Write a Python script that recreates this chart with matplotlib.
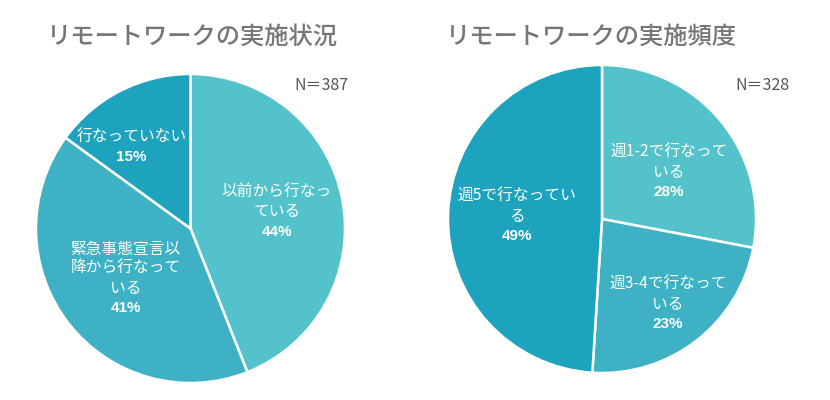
import numpy as np
import matplotlib.pyplot as plt

plt.rcParams['font.family'] = ['Noto Sans CJK JP', 'DejaVu Sans']

# data
status_labels = ['以前から行なっ\nている', '緊急事態宣言以\n降から行なって\nいる', '行なっていない']
status_values = [44, 41, 15]
status_n = 387

freq_labels = ['週1-2で行なって\nいる', '週3-4で行なって\nいる', '週5で行なってい\nる']
freq_values = [28, 23, 49]
freq_n = 328

colors = ['#53C2CA', '#3EB1C4', '#1DA3BE']
title_color = '#767676'

W, H = 830, 400
fig = plt.figure(figsize=(W / 100, H / 100), dpi=100)


def draw_pie(cx, cy, r, values, labels, dists, nudges, title, tx, n, nx):
    ax = fig.add_axes([(cx - r) / W, 1 - (cy + r) / H, 2 * r / W, 2 * r / H])
    wedges, _ = ax.pie(values, colors=colors, startangle=90, counterclock=False,
                       radius=1, wedgeprops=dict(edgecolor='white', linewidth=1.8))
    ax.set_xlim(-1, 1)
    ax.set_ylim(-1, 1)
    ax.set_aspect('equal')
    ax.axis('off')

    lh = 19.7 / r  # line pitch in data units
    for w, lab, v, d, nd in zip(wedges, labels, values, dists, nudges):
        ang = np.deg2rad((w.theta1 + w.theta2) / 2 + nd)
        x, y = d * np.cos(ang), d * np.sin(ang)
        lines = lab.split('\n')
        total = len(lines) + 1
        top = y + (total - 1) / 2 * lh
        for i, line in enumerate(lines):
            ax.text(x, top - i * lh, line, ha='center', va='center',
                    color='white', fontsize=11.3)
        ax.text(x, top - len(lines) * lh, f'{v}%', ha='center', va='center',
                color='white', fontsize=11, fontweight='bold',
                family=['Liberation Sans', 'DejaVu Sans'])

    fig.text(tx / W, 1 - 37 / H, title, ha='center', va='center',
             fontsize=17.5, color=title_color, fontweight='medium')
    fig.text(nx / W, 1 - 86 / H, f'N＝{n}', ha='center', va='center',
             fontsize=11.5, color='#555555')


draw_pie(190.5, 228.5, 154.5, status_values, status_labels, [0.57, 0.53, 0.65], [0, 0, 9],
         'リモートワークの実施状況', 192.5, status_n, 321)
draw_pie(602, 219, 154, freq_values, freq_labels, [0.53, 0.70, 0.55], [-4.5, 0, 0],
         'リモートワークの実施頻度', 591, freq_n, 762)

fig.savefig('out.png', dpi=100)
